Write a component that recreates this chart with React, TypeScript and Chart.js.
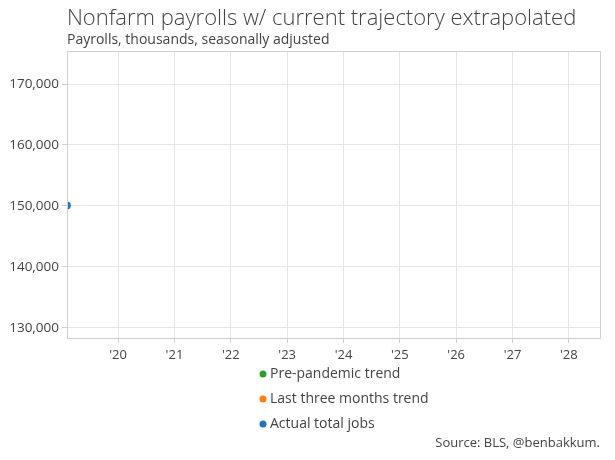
import React, { useEffect, useRef } from 'react';
import { Chart, registerables } from 'chart.js';

Chart.register(...registerables);

// series (x = decimal year)
const actualDates = [2019.09];
const actualJobs = [150100];
const preTrendDates: number[] = [];
const preTrendJobs: number[] = [];
const lastThreeDates: number[] = [];
const lastThreeJobs: number[] = [];

const legendLabels = ['Pre-pandemic trend', 'Last three months trend', 'Actual total jobs'];
const legendColors = ['#2ca02c', '#ff7f0e', '#1f77b4'];

const xTicks = [2020, 2021, 2022, 2023, 2024, 2025, 2026, 2027, 2028];
const yTicks = [130000, 140000, 150000, 160000, 170000];

const xMin = 2019.093;
const xMax = 2028.57;
const yMin = 128360;
const yMax = 175410;

const FONT = '"Open Sans", sans-serif';
const TEXT = '#444';

const toPoints = (xs: number[], ys: number[]) => xs.map((x, i) => ({ x, y: ys[i] }));

const App: React.FC = () => {
  const chartRef = useRef<HTMLCanvasElement>(null);
  const chartInstance = useRef<Chart | null>(null);

  useEffect(() => {
    document.body.style.margin = '0';
    if (!chartRef.current) return;
    if (chartInstance.current) chartInstance.current.destroy();
    const ctx = chartRef.current.getContext('2d');
    if (!ctx) return;

    // titles, legend, source and frame drawn by hand
    const decorations = {
      id: 'decorations',
      afterDraw(chart: Chart) {
        const c = chart.ctx;
        const { left, right, top, bottom } = chart.chartArea;
        c.save();
        c.strokeStyle = '#d0d0d0';
        c.lineWidth = 1;
        c.strokeRect(left + 0.5, top + 0.5, right - left - 1, bottom - top);

        c.fillStyle = TEXT;
        c.textAlign = 'left';
        c.textBaseline = 'alphabetic';
        c.font = `300 22px ${FONT}`;
        c.fillText('Nonfarm payrolls w/ current trajectory extrapolated', 67, 25);
        c.font = `14px ${FONT}`;
        c.fillText('Payrolls, thousands, seasonally adjusted', 67, 44);

        c.textBaseline = 'middle';
        legendLabels.forEach((label, i) => {
          const y = 374 + i * 25;
          c.fillStyle = legendColors[i];
          c.beginPath();
          c.arc(263, y, 3.5, 0, Math.PI * 2);
          c.fill();
          c.fillStyle = TEXT;
          c.font = `14px ${FONT}`;
          c.fillText(label, 270, y);
        });

        c.textAlign = 'right';
        c.font = `13px ${FONT}`;
        c.fillText('Source: BLS, @benbakkum.', 600, 443);
        c.restore();
      },
    };

    chartInstance.current = new Chart(ctx, {
      type: 'scatter',
      data: {
        datasets: [
          {
            label: legendLabels[0],
            data: toPoints(preTrendDates, preTrendJobs),
            backgroundColor: legendColors[0],
            borderColor: legendColors[0],
            pointRadius: 4,
          },
          {
            label: legendLabels[1],
            data: toPoints(lastThreeDates, lastThreeJobs),
            backgroundColor: legendColors[1],
            borderColor: legendColors[1],
            pointRadius: 4,
          },
          {
            label: legendLabels[2],
            data: toPoints(actualDates, actualJobs),
            backgroundColor: legendColors[2],
            borderColor: legendColors[2],
            pointRadius: 4,
            borderWidth: 0,
          },
        ],
      },
      options: {
        animation: false,
        responsive: false,
        layout: { padding: { top: 51, right: 14, left: 0, bottom: 0 } },
        plugins: {
          legend: { display: false },
          title: { display: false },
          tooltip: { enabled: false },
        },
        scales: {
          x: {
            type: 'linear',
            min: xMin,
            max: xMax,
            afterFit: (scale: any) => { scale.height = 122; },
            afterBuildTicks: (scale: any) => { scale.ticks = xTicks.map((value) => ({ value })); },
            border: { display: false },
            grid: { color: '#e6e6e6', tickLength: 5, tickColor: '#d0d0d0' },
            ticks: {
              padding: 4,
              color: TEXT,
              font: { family: FONT, size: 13 },
              maxRotation: 0,
              autoSkip: false,
              callback: (v: any) => "'" + String(v).slice(2),
            },
          },
          y: {
            min: yMin,
            max: yMax,
            afterFit: (scale: any) => { scale.width = 67; },
            afterBuildTicks: (scale: any) => { scale.ticks = yTicks.map((value) => ({ value })); },
            border: { display: false },
            grid: { color: '#e6e6e6', tickLength: 5, tickColor: '#d0d0d0' },
            ticks: {
              padding: 3,
              color: TEXT,
              font: { family: FONT, size: 13.5 },
              autoSkip: false,
              callback: (v: any) => Number(v).toLocaleString('en-US'),
            },
          },
        },
      },
      plugins: [decorations],
    });

    return () => {
      if (chartInstance.current) {
        chartInstance.current.destroy();
        chartInstance.current = null;
      }
    };
  }, []);

  return (
    <div style={{ width: 615, height: 460, position: 'relative', background: '#fff' }}>
      <canvas ref={chartRef} width={615} height={460} style={{ width: 615, height: 460 }}></canvas>
    </div>
  );
};

export default App;
